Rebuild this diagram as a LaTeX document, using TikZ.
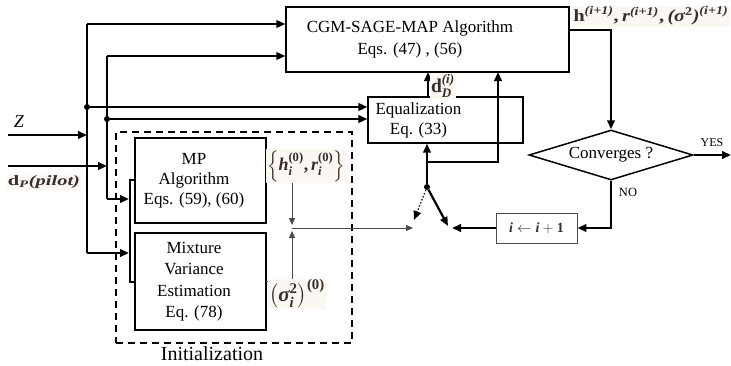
\documentclass[tikz,border=0pt]{standalone}
\usepackage{fontspec}
\setmainfont{Liberation Serif}
\usepackage{amsmath}
\usepackage{graphicx}
\usetikzlibrary{arrows.meta,shapes.geometric}
\definecolor{lab}{RGB}{55,45,42}
\definecolor{labbg}{RGB}{251,247,242}
\definecolor{thingray}{RGB}{75,75,75}
\newcommand{\bix}[1]{\text{\bfseries\itshape #1}}
\newcommand{\bux}[1]{\text{\bfseries #1}}
\newcommand{\itx}[1]{\text{\itshape #1}}
\begin{document}
\begin{tikzpicture}[x=1pt,y=-1pt,
  every node/.style={font=\fontsize{17}{20}\selectfont},
  thk/.style={line width=2.2pt},
  boxline/.style={draw, line width=1.2pt, inner sep=0pt},
  arr/.style={-{Triangle[length=9pt,width=7.5pt]}},
  tarr/.style={-{Triangle[length=7pt,width=6pt]}},
  thinl/.style={line width=0.9pt, draw=thingray},
  lbl/.style={text=lab, fill=labbg, inner sep=1pt},
  jdot/.style={circle, fill, inner sep=0pt, minimum size=6pt}
]
\useasboundingbox (0,0) rectangle (731,365);

% boxes
\node[boxline, minimum width=283pt, minimum height=65pt] (cgm) at (427.5,39.5)
  {\begin{tabular}{@{}c@{}}CGM-SAGE-MAP Algorithm\\[2pt] Eqs. (47) , (56)\end{tabular}\hspace*{35pt}};
\node[boxline, minimum width=155pt, minimum height=46pt] (eq) at (445.5,120)
  {\begin{tabular}{@{}c@{}}Equalization\\ Eq. (33)\end{tabular}\hspace*{54pt}};
\node[draw, dashed, line width=1.4pt, dash pattern=on 7pt off 5pt, minimum width=236pt, minimum height=211pt, inner sep=0pt] (init) at (234,237.5) {};
\node[anchor=base, font=\fontsize{20}{24}\selectfont] (initl) at (212,360) {Initialization};
\node[boxline, minimum width=131pt, minimum height=85pt] (mp) at (200.5,180.5)
  {\begin{tabular}{@{}c@{}}MP\\Algorithm\\Eqs. (59), (60)\end{tabular}\hspace*{13pt}};
\node[boxline, minimum width=131pt, minimum height=97pt] (mv) at (200.5,281.5)
  {\begin{tabular}{@{}c@{}}Mixture\\[1.5pt] Variance\\[1.5pt] Estimation\\[1.5pt] Eq. (78)\end{tabular}\hspace*{13pt}};
\node[diamond, draw, line width=1.5pt, minimum width=164pt, minimum height=50pt, inner sep=0pt, aspect=3.28] (conv) at (611,155) {Converges ?};
\node[draw=thingray, line width=0.9pt, minimum width=81pt, minimum height=30pt, inner sep=0pt, text=lab, font=\fontsize{14}{16}\selectfont] (inc) at (536.5,228) {$\bix{i} \leftarrow \bix{i}+\bux{1}$};

% dots
\node[jdot] (d1) at (87,107) {};
\node[jdot] (d2) at (107,119) {};
\node[jdot] (J) at (427,187) {};

% coordinates
\coordinate (zin) at (8,135);
\coordinate (zhit) at (87,135);
\coordinate (dpin) at (8,166);
\coordinate (dphit) at (107,166);
\coordinate (v1t) at (87,24);
\coordinate (v1b) at (87,253);
\coordinate (v2t) at (107,56);
\coordinate (v2b) at (107,199);
\coordinate (b1) at (129,253);
\coordinate (b2) at (129,199);
\coordinate (bt) at (135,180);
\coordinate (btc) at (130,180);
\coordinate (bbc) at (130,282);
\coordinate (bb) at (135,282);
\coordinate (mpo) at (266,181);
\coordinate (mvo) at (266,281);
\coordinate (mpj) at (292,225);
\coordinate (mvj) at (292,231);
\coordinate (tj) at (292,228);
\coordinate (sw1) at (413,228);
\coordinate (swd) at (414,220);
\coordinate (sws) at (448,226);
\coordinate (swi) at (452,228);
\coordinate (br) at (427,162);
\coordinate (cgmin2) at (498,72);
\coordinate (eqo) at (428,97);
\coordinate (cgmin1) at (428,72);
\coordinate (cgmo) at (569,30);
\coordinate (yesend) at (731,155);

% left inputs
\draw[thk,arr] (zin) -- (zhit);
\draw[thk,arr] (dpin) -- (dphit);
\draw[thk] (v1t) -- (v1b);
\draw[thk] (v2t) -- (v2b);
\draw[thk,arr] (v1t) -- (cgm.west |- v1t);
\draw[thk,arr] (v2t) -- (cgm.west |- v2t);
\draw[thk,arr] (d1) -- (eq.west |- d1);
\draw[thk,arr] (d2) -- (eq.west |- d2);
\draw[thk,arr] (v1b) -- (b1);
\draw[thk,arr] (v2b) -- (b2);
\draw[thk] (bt) -- (btc) -- (bbc) -- (bb);

% initialization outputs
\draw[thinl,tarr] (mpo) -| (mpj);
\draw[thinl,tarr] (mvo) -| (mvj);
\draw[thinl,tarr] (tj) -- (sw1);

% switch and loop
\draw[thk,arr] (J) -- (J |- eq.south);
\draw[thk,arr] (br) -| (cgmin2);
\draw[thk,arr] (eqo) -- (cgmin1);
\draw[thk,arr] (J) -- (sws);
\draw[line width=1.3pt, dotted, arr] (J) -- (swd);
\draw[thk,arr] (cgmo) -| (conv.north);
\draw[thk,arr] (conv.east) -- (yesend);
\draw[thk,arr] (conv.south) |- (inc.east);
\draw[thk,arr] (inc.west) -- (swi);

% labels
\node[lbl, font=\fontsize{14}{16}\selectfont] (hlab) at (651,16)
  {\resizebox*{155pt}{19pt}{$\bux{h}^{\bix{(i+1)}}\bux{,}\,\bix{r}^{\bix{(i+1)}}\bux{,}\,\bix{(}\bix{σ}^{\bux{2}}\bix{)}^{\bix{(i+1)}}$}};
\node[lbl, font=\fontsize{12}{14}\selectfont] (ddlab) at (443,86)
  {\resizebox{24pt}{!}{$\bux{d}_{\bix{D}}^{\bix{(i)}}$}};
\node[lbl, font=\fontsize{15}{17}\selectfont] (hr0) at (306,166)
  {\resizebox{78pt}{!}{$\left\{\bix{h}_{\bix{i}}^{\bux{(0)}}\bux{,}\,\bix{r}_{\bix{i}}^{\bux{(0)}}\right\}$}};
\node[lbl, font=\fontsize{15}{17}\selectfont] (sig0) at (297,294)
  {\resizebox{56pt}{!}{$\left(\bix{σ}_{\bix{i}}^{\bux{2}}\right)^{\bux{(0)}}$}};
\node[font=\fontsize{18}{20}\selectfont] (zlab) at (19,122) {$\itx{Z}$};
\node[lbl, font=\fontsize{13}{15}\selectfont] (dplab) at (44,182)
  {\resizebox*{72pt}{13pt}{$\bux{d}_{\bix{P}}\bix{(pilot)}$}};
\node[font=\fontsize{12}{14}\selectfont] (yes) at (712,143) {YES};
\node[font=\fontsize{12.5}{14}\selectfont] (no) at (628,192) {NO};
\end{tikzpicture}
\end{document}
